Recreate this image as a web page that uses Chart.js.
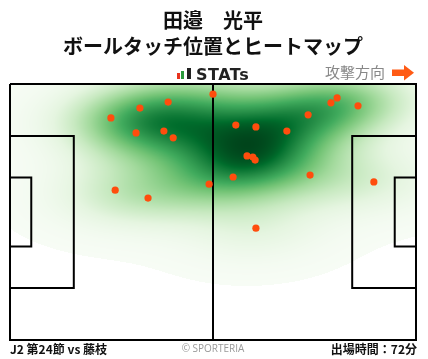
<!DOCTYPE html>
<html lang="ja">
<head>
<meta charset="utf-8">
<script src="https://cdn.jsdelivr.net/npm/chart.js@4.4.1/dist/chart.umd.min.js"></script>
<style>
  html, body { margin: 0; padding: 0; background: #fff; }
  .wrap { position: relative; width: 428px; height: 359px; }
</style>
</head>
<body>
<div class="wrap"><canvas id="myChart" width="428" height="359"></canvas></div>
<script>
// ball touches, metres (x: own goal -> attacking goal, y: from top touchline)
const touchX = [52.5, 33.6, 40.9, 26.1, 32.6, 39.8, 42.2, 27.2, 35.7, 51.5, 84.6, 83.0,
  90.0, 77.1, 58.4, 63.6, 71.6, 61.3, 62.8, 63.4, 57.7, 77.6, 94.1, 63.6];
const touchY = [2.7, 6.4, 4.8, 9.0, 13.0, 12.5, 14.3, 28.2, 30.3, 26.6, 3.7, 5.0,
  5.8, 8.2, 10.9, 11.4, 12.5, 19.1, 19.4, 20.2, 24.7, 24.2, 26.0, 38.3];

const titleLines = ['田邉　光平', 'ボールタッチ位置とヒートマップ'];
const matchLabel = 'J2 第24節 vs 藤枝';
const minutesLabel = '出場時間：72分';

// pitch size (metres)
const PITCH_LENGTH = 105;
const PITCH_WIDTH = 68;
const PENALTY_DEPTH = 16.5;
const PENALTY_WIDTH = 40.32;
const GOAL_AREA_DEPTH = 5.5;
const GOAL_AREA_WIDTH = 18.32;

const BW_ADJUST = 1.1;
const THRESH = 0.004;

// matplotlib "Greens"
const greens = ['#f7fcf5', '#e5f5e0', '#c7e9c0', '#a1d99b', '#74c476', '#41ab5d', '#238b45', '#006d2c', '#00441b']
  .map(h => [parseInt(h.substr(1, 2), 16), parseInt(h.substr(3, 2), 16), parseInt(h.substr(5, 2), 16)]);

function greenColor(t) {
  t = Math.max(0, Math.min(1, t)) * (greens.length - 1);
  const i = Math.min(Math.floor(t), greens.length - 2);
  const f = t - i;
  return greens[i].map((c, k) => Math.round(c + (greens[i + 1][k] - c) * f));
}

function box(x0, depth, width) {
  const top = (PITCH_WIDTH - width) / 2;
  const x1 = x0 === 0 ? depth : PITCH_LENGTH - depth;
  return [{x: x0, y: top}, {x: x1, y: top}, {x: x1, y: top + width}, {x: x0, y: top + width}];
}

// gaussian kde (scott)
function makeKde(xs, ys) {
  const n = xs.length;
  const mx = xs.reduce((a, b) => a + b) / n;
  const my = ys.reduce((a, b) => a + b) / n;
  let sxx = 0, syy = 0, sxy = 0;
  for (let i = 0; i < n; i++) {
    sxx += (xs[i] - mx) ** 2;
    syy += (ys[i] - my) ** 2;
    sxy += (xs[i] - mx) * (ys[i] - my);
  }
  const f2 = Math.pow(n, -1 / 3) * BW_ADJUST * BW_ADJUST;
  const kxx = sxx / (n - 1) * f2, kyy = syy / (n - 1) * f2, kxy = sxy / (n - 1) * f2;
  const det = kxx * kyy - kxy * kxy;
  const ixx = kyy / det, iyy = kxx / det, ixy = -kxy / det;
  const norm = 1 / (2 * Math.PI * Math.sqrt(det) * n);
  const fn = function (px, py) {
    let s = 0;
    for (let i = 0; i < n; i++) {
      const dx = px - xs[i], dy = py - ys[i];
      s += Math.exp(-0.5 * (ixx * dx * dx + 2 * ixy * dx * dy + iyy * dy * dy));
    }
    return s * norm;
  };
  fn.bw = [Math.sqrt(kxx), Math.sqrt(kyy)];
  return fn;
}

// density -> share of probability mass lying below that density level
function massTable(kde, xs, ys) {
  const g = 200, cut = 3;
  const x0 = Math.min(...xs) - kde.bw[0] * cut, x1 = Math.max(...xs) + kde.bw[0] * cut;
  const y0 = Math.min(...ys) - kde.bw[1] * cut, y1 = Math.max(...ys) + kde.bw[1] * cut;
  const vals = [];
  for (let i = 0; i < g; i++) {
    for (let j = 0; j < g; j++) {
      vals.push(kde(x0 + (x1 - x0) * i / (g - 1), y0 + (y1 - y0) * j / (g - 1)));
    }
  }
  vals.sort((a, b) => a - b);
  const total = vals.reduce((a, b) => a + b);
  const below = new Float64Array(vals.length);
  let acc = 0;
  for (let k = 0; k < vals.length; k++) { below[k] = acc / total; acc += vals[k]; }
  return function (d) {
    let lo = 0, hi = vals.length - 1;
    while (lo < hi) {
      const mid = (lo + hi + 1) >> 1;
      if (vals[mid] <= d) lo = mid; else hi = mid - 1;
    }
    return below[lo];
  };
}

const heatmap = {
  id: 'heatmap',
  beforeDatasetsDraw(chart) {
    const {ctx, chartArea: a, scales} = chart;
    const kde = makeKde(touchX, touchY);
    const share = massTable(kde, touchX, touchY);
    const w = Math.round(a.right - a.left), h = Math.round(a.bottom - a.top);
    const off = document.createElement('canvas');
    off.width = w; off.height = h;
    const octx = off.getContext('2d');
    const img = octx.createImageData(w, h);
    for (let j = 0; j < h; j++) {
      const vy = scales.y.getValueForPixel(a.top + j + 0.5);
      for (let i = 0; i < w; i++) {
        const vx = scales.x.getValueForPixel(a.left + i + 0.5);
        const q = share(kde(vx, vy));
        if (q < THRESH) continue;
        const c = greenColor((q - THRESH) / (1 - THRESH));
        const p = (j * w + i) * 4;
        img.data[p] = c[0]; img.data[p + 1] = c[1]; img.data[p + 2] = c[2]; img.data[p + 3] = 255;
      }
    }
    octx.putImageData(img, 0, 0);
    ctx.drawImage(off, a.left, a.top);
  }
};

const extras = {
  id: 'extras',
  afterDraw(chart) {
    const ctx = chart.ctx;
    ctx.save();
    // STATs logo
    ctx.fillStyle = '#e8321e'; ctx.fillRect(177, 73, 3, 6);
    ctx.fillStyle = '#2a9a3c'; ctx.fillRect(181, 71, 3, 8);
    ctx.fillStyle = '#222'; ctx.fillRect(187, 68, 4, 11);
    ctx.font = 'bold 16px "DejaVu Sans"';
    ctx.letterSpacing = '0.5px';
    ctx.textBaseline = 'alphabetic';
    ctx.textAlign = 'left';
    ctx.fillText('STATs', 196, 79.5);
    ctx.letterSpacing = '0px';

    ctx.fillStyle = '#888';
    ctx.font = '15px "Noto Sans CJK JP"';
    ctx.textAlign = 'right';
    ctx.textBaseline = 'middle';
    ctx.fillText('攻撃方向', 385, 72);

    ctx.fillStyle = '#ff5a14';
    ctx.fillRect(392, 69.5, 13, 6.5);
    ctx.beginPath();
    ctx.moveTo(404, 65); ctx.lineTo(414, 72.75); ctx.lineTo(404, 80.5);
    ctx.closePath(); ctx.fill();

    // footer
    ctx.fillStyle = '#111';
    ctx.font = 'bold 12px "Noto Sans CJK JP"';
    ctx.textAlign = 'left';
    ctx.fillText(matchLabel, 10, 349.5);
    ctx.textAlign = 'right';
    ctx.fillText(minutesLabel, 417, 349.5);
    ctx.fillStyle = '#999';
    ctx.font = '10px "Open Sans"';
    ctx.textAlign = 'center';
    ctx.fillText('© SPORTERIA', 213, 349.5);
    ctx.restore();
  }
};

function lineSet(points) {
  return {
    type: 'scatter', data: points, showLine: true, pointRadius: 0,
    borderColor: '#000', borderWidth: 2, clip: false, fill: false
  };
}

const ctx = document.getElementById('myChart').getContext('2d');

const chart = new Chart(ctx, {
  type: 'scatter',
  data: {
    datasets: [
      {
        label: 'touches',
        data: touchX.map((x, i) => ({x: x, y: touchY[i]})),
        backgroundColor: '#ff4d0d',
        borderWidth: 0,
        pointRadius: 3.6,
      },
      lineSet([{x: 0, y: 0}, {x: PITCH_LENGTH, y: 0}, {x: PITCH_LENGTH, y: PITCH_WIDTH}, {x: 0, y: PITCH_WIDTH}, {x: 0, y: 0}]),
      lineSet([{x: PITCH_LENGTH / 2, y: 0}, {x: PITCH_LENGTH / 2, y: PITCH_WIDTH}]),
      lineSet(box(0, PENALTY_DEPTH, PENALTY_WIDTH)),
      lineSet(box(0, GOAL_AREA_DEPTH, GOAL_AREA_WIDTH)),
      lineSet(box(PITCH_LENGTH, PENALTY_DEPTH, PENALTY_WIDTH)),
      lineSet(box(PITCH_LENGTH, GOAL_AREA_DEPTH, GOAL_AREA_WIDTH)),
    ]
  },
  options: {
    responsive: false,
    animation: false,
    events: [],
    layout: { padding: { left: 10, right: 12, top: 0, bottom: 19 } },
    scales: {
      x: { type: 'linear', min: 0, max: PITCH_LENGTH, display: false },
      y: { type: 'linear', min: 0, max: PITCH_WIDTH, reverse: true, display: false }
    },
    plugins: {
      legend: { display: false },
      tooltip: { enabled: false },
      title: {
        display: true,
        text: titleLines,
        color: '#111',
        font: { family: '"Noto Sans CJK JP"', size: 20, weight: 'bold', lineHeight: 1.3 },
        padding: { top: 7, bottom: 25 }
      }
    }
  },
  plugins: [heatmap, extras]
});
</script>
</body>
</html>
